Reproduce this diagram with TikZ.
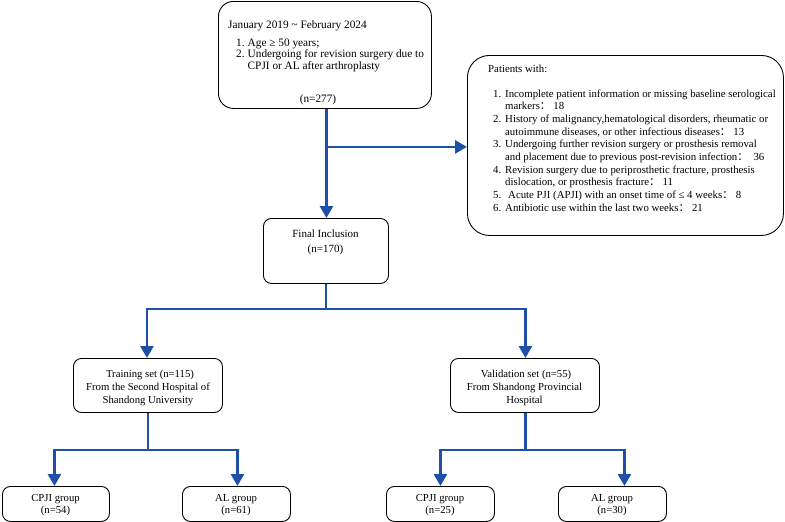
\documentclass[tikz,border=0pt]{standalone}
\usepackage{fontspec}
\setmainfont{Liberation Serif}
\newfontfamily\cjk{Noto Sans CJK SC}
\usetikzlibrary{arrows.meta,calc}
\definecolor{flowblue}{RGB}{30,80,168}
\newcommand{\fc}{{\cjk ：}}
\begin{document}
\begin{tikzpicture}[x=1pt,y=-1pt,
  box/.style={draw=black,line width=0.9pt,rounded corners=8pt,anchor=north west,inner sep=0pt},
  txt/.style={inner sep=0pt,font=\fontsize{10.7}{12.7}\selectfont},
  toptxt/.style={font=\fontsize{11.3}{12.7}\selectfont},
  exctxt/.style={font=\fontsize{10.8}{12.7}\selectfont},
  lt/.style={txt,anchor=base west},
  ct/.style={txt,anchor=base},
  conn/.style={draw=flowblue,line width=2.8pt,line join=miter},
  arr/.style={conn,-{Triangle[width=13pt,length=12pt]}}]
\useasboundingbox (0,0) rectangle (785,522);
% boxes
\node[box,rounded corners=15pt,minimum width=213pt,minimum height=107pt] (top) at (218,1) {};
\node[box,rounded corners=22pt,minimum width=316pt,minimum height=180pt] (excl) at (467,55) {};
\node[box,minimum width=125pt,minimum height=65pt] (final) at (263,218) {};
\node[box,minimum width=149pt,minimum height=54pt] (train) at (73,358) {};
\node[box,minimum width=149pt,minimum height=54pt] (valid) at (450,358) {};
\node[box,minimum width=107pt,minimum height=35pt] (cpjiA) at (2,486) {};
\node[box,minimum width=108pt,minimum height=35pt] (alA) at (182,486) {};
\node[box,minimum width=108pt,minimum height=35pt] (cpjiB) at (386,486) {};
\node[box,minimum width=108pt,minimum height=35pt] (alB) at (558,486) {};
% top box text
\node[lt,toptxt] (t0) at (228,28) {January 2019 \textasciitilde{} February 2024};
\node[lt,toptxt] (t1n) at (236,46) {1.};
\node[lt,toptxt] (t1) at (247.5,46) {Age ≥ 50 years;};
\node[lt,toptxt] (t2n) at (236,57.5) {2.};
\node[lt,toptxt] (t2) at (247.5,57.5) {Undergoing for revision surgery due to};
\node[lt,toptxt] (t2b) at (247.5,69) {CPJI or AL after arthroplasty};
\node[ct,toptxt] (t3) at (318,102) {(n=277)};
% exclusion text
\node[lt,exctxt] (e0) at (488,72) {Patients with:};
\node[lt,exctxt] (e1n) at (493,97) {1.};
\node[lt,exctxt] (e1) at (505,97) {Incomplete patient information or missing baseline serological};
\node[lt,exctxt] (e1b) at (505,109.7) {markers\fc\ 18};
\node[lt,exctxt] (e2n) at (493,122.4) {2.};
\node[lt,exctxt] (e2) at (505,122.4) {History of malignancy,hematological disorders, rheumatic or};
\node[lt,exctxt] (e2b) at (505,135.1) {autoimmune diseases, or other infectious diseases\fc\ 13};
\node[lt,exctxt] (e3n) at (493,147.8) {3.};
\node[lt,exctxt] (e3) at (505,147.8) {Undergoing further revision surgery or prosthesis removal};
\node[lt,exctxt] (e3b) at (505,160.5) {and placement due to previous post-revision infection\fc\ \ 36};
\node[lt,exctxt] (e4n) at (493,173.2) {4.};
\node[lt,exctxt] (e4) at (505,173.2) {Revision surgery due to periprosthetic fracture, prosthesis};
\node[lt,exctxt] (e4b) at (505,185.9) {dislocation, or prosthesis fracture\fc\ 11};
\node[lt,exctxt] (e5n) at (493,198.6) {5.};
\node[lt,exctxt] (e5) at (508,198.6) {Acute PJI (APJI) with an onset time of ≤ 4 weeks\fc\ 8};
\node[lt,exctxt] (e6n) at (493,211.3) {6.};
\node[lt,exctxt] (e6) at (505,211.3) {Antibiotic use within the last two weeks\fc\ 21};
% final
\node[ct,font=\fontsize{11}{12.7}\selectfont] (f1) at (325.5,237) {Final Inclusion};
\node[ct,font=\fontsize{11}{12.7}\selectfont] (f2) at (325.5,252) {(n=170)};
% train / valid
\node[ct] (r1) at (150,377) {Training set (n=115)};
\node[ct] (r2) at (148,390) {From the Second Hospital of};
\node[ct] (r3) at (148,403) {Shandong University};
\node[ct] (v1) at (526,377) {Validation set (n=55)};
\node[ct] (v2) at (524.5,390) {From Shandong Provincial};
\node[ct] (v3) at (524.5,403) {Hospital};
% groups
\node[ct] (g1) at (55.5,501) {CPJI group};
\node[ct] (g1n) at (55.5,513) {(n=54)};
\node[ct] (g2) at (236,501) {AL group};
\node[ct] (g2n) at (236,513) {(n=61)};
\node[ct] (g3) at (440,501) {CPJI group};
\node[ct] (g3n) at (440,513) {(n=25)};
\node[ct] (g4) at (612,501) {AL group};
\node[ct] (g4n) at (612,513) {(n=30)};
% connectors
\coordinate (br) at ($(top.south)+(1.5,38)$);
\draw[arr] ([xshift=1.5pt]top.south) -- ([xshift=1.5pt]top.south |- final.north);
\draw[arr] (br) -- (br -| excl.west);
\coordinate (s1) at ($(final.south)+(0,25)$);
\draw[conn] (final.south) -- (s1);
\draw[arr] (s1) -| ([xshift=-1pt]train.north);
\draw[arr] (s1) -| ([xshift=0.5pt]valid.north);
\coordinate (s2) at ($(train.south)+(0,37)$);
\draw[conn] (train.south) -- (s2);
\draw[arr] (s2) -| ([xshift=-1.5pt]cpjiA.north);
\draw[arr] (s2) -| ([xshift=1pt]alA.north);
\coordinate (s3) at ($(valid.south)+(0.5,37)$);
\draw[conn] ([xshift=0.5pt]valid.south) -- (s3);
\draw[arr] (s3) -| (cpjiB.north);
\draw[arr] (s3) -| ([xshift=12pt]alB.north);
\end{tikzpicture}
\end{document}
